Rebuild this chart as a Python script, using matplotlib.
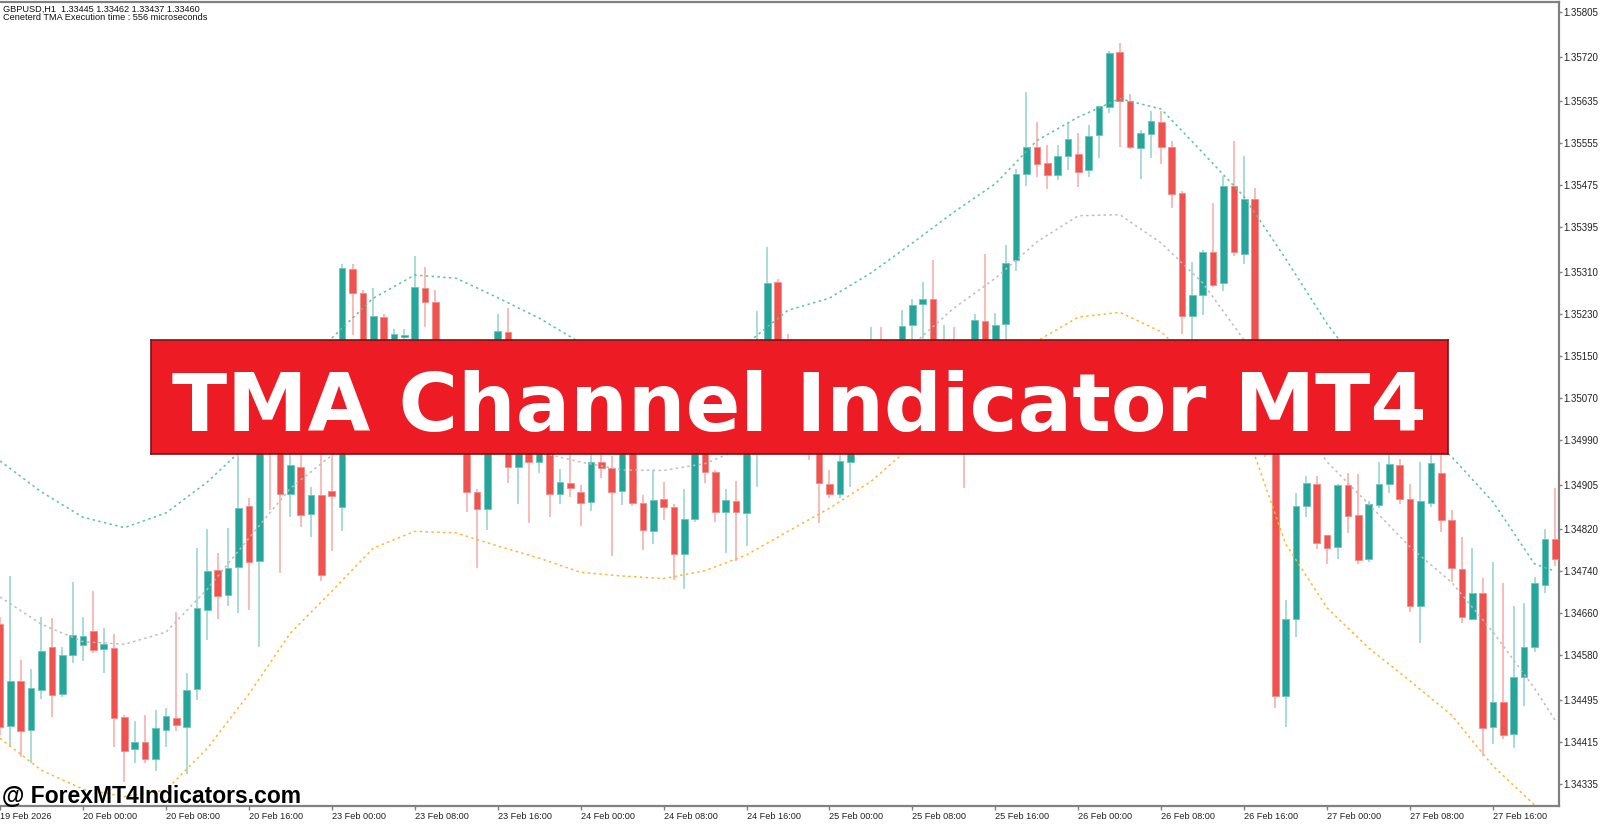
import numpy as np
import matplotlib
matplotlib.use("Agg")
import matplotlib.pyplot as plt

# GBPUSD H1 candles, 19 Feb 16:00 .. 27 Feb 22:00 (151 bars)
opens = [
    1.34661, 1.34445, 1.34531, 1.34437, 1.34514, 1.34596, 1.34506, 1.34580, 1.34599, 1.34627,
    1.34592, 1.34594, 1.34463, 1.34401, 1.34415, 1.34383, 1.34437, 1.34460, 1.34443, 1.34516,
    1.34666, 1.34742, 1.34695, 1.34748, 1.34864, 1.34759, 1.35028, 1.34975, 1.34887, 1.34938,
    1.34849, 1.34885, 1.34893, 1.34862, 1.35316, 1.35270, 1.35171, 1.35224, 1.35171, 1.35186,
    1.35180, 1.35279, 1.35253, 1.35104, 1.35047, 1.34990, 1.34891, 1.34858, 1.35066, 1.35196,
    1.34938, 1.35009, 1.34948, 1.34990, 1.34887, 1.34908, 1.34891, 1.34872, 1.34948, 1.34936,
    1.34893, 1.34990, 1.34870, 1.34817, 1.34877, 1.34863, 1.34773, 1.34840, 1.35009, 1.34929,
    1.34852, 1.34874, 1.34851, 1.35028, 1.35104, 1.35291, 1.35066, 1.35009, 1.35037, 1.34990,
    1.34906, 1.34887, 1.34948, 1.35009, 1.35066, 1.35171, 1.35123, 1.35161, 1.35208, 1.35249,
    1.35259, 1.35095, 1.35123, 1.35028, 1.34990, 1.35216, 1.35171, 1.35211, 1.35333, 1.35496,
    1.35548, 1.35518, 1.35495, 1.35530, 1.35535, 1.35504, 1.35570, 1.35625, 1.35728, 1.35636,
    1.35546, 1.35573, 1.35596, 1.35547, 1.35460, 1.35226, 1.35267, 1.35348, 1.35288, 1.35474,
    1.35344, 1.35448, 1.35066, 1.35009, 1.34502, 1.34650, 1.34865, 1.34907, 1.34809, 1.34787,
    1.34904, 1.34847, 1.34763, 1.34866, 1.34906, 1.34942, 1.34877, 1.34674, 1.34870, 1.34928,
    1.34837, 1.34745, 1.34650, 1.34699, 1.34443, 1.34491, 1.34430, 1.34538, 1.34595, 1.34714,
    1.34801,
]
highs = [
    1.34652, 1.34731, 1.34571, 1.34554, 1.34653, 1.34651, 1.34596, 1.34719, 1.34653, 1.34702,
    1.34632, 1.34621, 1.34466, 1.34455, 1.34466, 1.34475, 1.34479, 1.34663, 1.34546, 1.34784,
    1.34820, 1.34774, 1.34822, 1.34971, 1.34879, 1.35066, 1.35104, 1.35009, 1.34990, 1.34971,
    1.34900, 1.34971, 1.34990, 1.35325, 1.35325, 1.35276, 1.35280, 1.35230, 1.35201, 1.35201,
    1.35340, 1.35319, 1.35276, 1.35123, 1.35066, 1.35009, 1.34896, 1.35076, 1.35230, 1.35242,
    1.35028, 1.35018, 1.35009, 1.35009, 1.34935, 1.34971, 1.34904, 1.34980, 1.34971, 1.34959,
    1.35009, 1.35009, 1.34885, 1.34933, 1.34910, 1.34868, 1.34896, 1.35028, 1.35028, 1.34933,
    1.34896, 1.34912, 1.35066, 1.35236, 1.35358, 1.35297, 1.35192, 1.35076, 1.35066, 1.35009,
    1.34933, 1.34971, 1.35018, 1.35085, 1.35206, 1.35206, 1.35180, 1.35237, 1.35258, 1.35291,
    1.35333, 1.35209, 1.35206, 1.35066, 1.35230, 1.35344, 1.35232, 1.35361, 1.35506, 1.35653,
    1.35596, 1.35552, 1.35552, 1.35593, 1.35574, 1.35590, 1.35626, 1.35731, 1.35746, 1.35648,
    1.35580, 1.35617, 1.35617, 1.35559, 1.35464, 1.35328, 1.35352, 1.35442, 1.35493, 1.35559,
    1.35530, 1.35469, 1.35085, 1.35028, 1.34686, 1.34889, 1.34921, 1.34921, 1.34809, 1.34907,
    1.34928, 1.34925, 1.34874, 1.34948, 1.34964, 1.34953, 1.34906, 1.34948, 1.34964, 1.34964,
    1.34856, 1.34806, 1.34785, 1.34728, 1.34758, 1.34717, 1.34674, 1.34680, 1.34729, 1.34820,
    1.34898,
]
lows = [
    1.34428, 1.34405, 1.34386, 1.34375, 1.34496, 1.34463, 1.34500, 1.34565, 1.34569, 1.34585,
    1.34547, 1.34405, 1.34338, 1.34375, 1.34375, 1.34360, 1.34406, 1.34436, 1.34354, 1.34495,
    1.34609, 1.34650, 1.34674, 1.34660, 1.34666, 1.34596, 1.34856, 1.34736, 1.34843, 1.34824,
    1.34805, 1.34721, 1.34779, 1.34817, 1.35190, 1.35142, 1.35152, 1.35152, 1.35157, 1.35171,
    1.35161, 1.35205, 1.35085, 1.35009, 1.34971, 1.34853, 1.34747, 1.34818, 1.35047, 1.34908,
    1.34868, 1.34832, 1.34928, 1.34843, 1.34868, 1.34881, 1.34826, 1.34855, 1.34917, 1.34769,
    1.34866, 1.34864, 1.34780, 1.34792, 1.34837, 1.34723, 1.34706, 1.34834, 1.34908, 1.34834,
    1.34774, 1.34760, 1.34788, 1.34901, 1.35085, 1.35047, 1.34990, 1.34980, 1.34952, 1.34832,
    1.34879, 1.34879, 1.34901, 1.34990, 1.35047, 1.35085, 1.35104, 1.35142, 1.35182, 1.35182,
    1.35085, 1.35028, 1.34990, 1.34898, 1.34971, 1.35142, 1.35152, 1.35171, 1.35312, 1.35474,
    1.35491, 1.35468, 1.35485, 1.35504, 1.35471, 1.35490, 1.35526, 1.35613, 1.35547, 1.35544,
    1.35486, 1.35526, 1.35516, 1.35432, 1.35192, 1.35171, 1.35228, 1.35281, 1.35274, 1.35340,
    1.35326, 1.35047, 1.34957, 1.34479, 1.34443, 1.34615, 1.34843, 1.34782, 1.34753, 1.34764,
    1.34813, 1.34753, 1.34757, 1.34860, 1.34889, 1.34869, 1.34663, 1.34604, 1.34863, 1.34814,
    1.34720, 1.34641, 1.34647, 1.34388, 1.34412, 1.34420, 1.34403, 1.34483, 1.34587, 1.34698,
    1.34750,
]
closes = [
    1.34444, 1.34531, 1.34435, 1.34517, 1.34588, 1.34505, 1.34580, 1.34618, 1.34616, 1.34590,
    1.34601, 1.34460, 1.34397, 1.34414, 1.34382, 1.34442, 1.34464, 1.34447, 1.34514, 1.34670,
    1.34741, 1.34693, 1.34746, 1.34860, 1.34758, 1.35028, 1.34975, 1.34887, 1.34942, 1.34847,
    1.34885, 1.34733, 1.34883, 1.35317, 1.35270, 1.35171, 1.35226, 1.35171, 1.35192, 1.35190,
    1.35281, 1.35253, 1.35104, 1.35028, 1.34990, 1.34891, 1.34858, 1.35066, 1.35197, 1.34939,
    1.35009, 1.34948, 1.34990, 1.34887, 1.34910, 1.34898, 1.34870, 1.34948, 1.34937, 1.34891,
    1.34990, 1.34870, 1.34818, 1.34876, 1.34863, 1.34773, 1.34839, 1.35009, 1.34929, 1.34853,
    1.34876, 1.34852, 1.35028, 1.35104, 1.35289, 1.35066, 1.35028, 1.35047, 1.34990, 1.34908,
    1.34887, 1.34950, 1.35009, 1.35066, 1.35142, 1.35123, 1.35161, 1.35207, 1.35247, 1.35258,
    1.35104, 1.35123, 1.35028, 1.34980, 1.35218, 1.35171, 1.35209, 1.35327, 1.35496, 1.35548,
    1.35516, 1.35495, 1.35530, 1.35563, 1.35501, 1.35569, 1.35626, 1.35727, 1.35636, 1.35547,
    1.35574, 1.35598, 1.35548, 1.35458, 1.35226, 1.35266, 1.35347, 1.35286, 1.35474, 1.35347,
    1.35448, 1.35066, 1.35009, 1.34502, 1.34649, 1.34864, 1.34909, 1.34793, 1.34785, 1.34905,
    1.34846, 1.34761, 1.34868, 1.34906, 1.34944, 1.34877, 1.34674, 1.34874, 1.34947, 1.34837,
    1.34747, 1.34652, 1.34699, 1.34441, 1.34491, 1.34428, 1.34538, 1.34595, 1.34717, 1.34801,
    1.34764,
]
opens[0] = 1.34640

# centered TMA channel read every 4 bars
tma_bars = list(range(0, 149, 4)) + [150]
tma_upper = [
    1.34950, 1.34891, 1.34843, 1.34823, 1.34851, 1.34910, 1.34984, 1.35079, 1.35184, 1.35260,
    1.35304, 1.35298, 1.35261, 1.35222, 1.35175, 1.35142, 1.35131, 1.35140, 1.35173, 1.35237,
    1.35260, 1.35308, 1.35365, 1.35424, 1.35478, 1.35560, 1.35605, 1.35640, 1.35620, 1.35537,
    1.35453, 1.35335, 1.35211, 1.35106, 1.35028, 1.34958, 1.34872, 1.34754, 1.34740,
]
tma_middle = [
    1.34691, 1.34639, 1.34606, 1.34601, 1.34624, 1.34706, 1.34803, 1.34898, 1.34961, 1.35003,
    1.35017, 1.35007, 1.34990, 1.34967, 1.34948, 1.34933, 1.34932, 1.34945, 1.34978, 1.35026,
    1.35072, 1.35119, 1.35171, 1.35241, 1.35298, 1.35367, 1.35417, 1.35419, 1.35365, 1.35289,
    1.35180, 1.35062, 1.34948, 1.34868, 1.34786, 1.34719, 1.34624, 1.34517, 1.34456,
]
tma_lower = [
    1.34422, 1.34361, 1.34325, 1.34311, 1.34323, 1.34403, 1.34506, 1.34622, 1.34702, 1.34784,
    1.34816, 1.34813, 1.34788, 1.34765, 1.34738, 1.34731, 1.34726, 1.34741, 1.34771, 1.34816,
    1.34860, 1.34911, 1.34980, 1.35051, 1.35119, 1.35178, 1.35224, 1.35233, 1.35196, 1.35117,
    1.35018, 1.34792, 1.34670, 1.34594, 1.34531, 1.34466, 1.34369, 1.34295, 1.34275,
]

price_ticks = [1.35805, 1.35720, 1.35635, 1.35555, 1.35475, 1.35395, 1.35310, 1.35230, 1.35150,
               1.35070, 1.34990, 1.34905, 1.34820, 1.34740, 1.34660, 1.34580, 1.34495, 1.34415,
               1.34335]
time_bars = [0, 8, 16, 24, 32, 40, 48, 56, 64, 72, 80, 88, 96, 104, 112, 120, 128, 136, 144]
time_labels = ["19 Feb 2026", "20 Feb 00:00", "20 Feb 08:00", "20 Feb 16:00", "23 Feb 00:00",
               "23 Feb 08:00", "23 Feb 16:00", "24 Feb 00:00", "24 Feb 08:00", "24 Feb 16:00",
               "25 Feb 00:00", "25 Feb 08:00", "25 Feb 16:00", "26 Feb 00:00", "26 Feb 08:00",
               "26 Feb 16:00", "27 Feb 00:00", "27 Feb 08:00", "27 Feb 16:00"]

bull = "#26a69a"
bear = "#ef5350"
axis_col = "#808080"

plt.rcParams["font.family"] = ["Liberation Sans", "DejaVu Sans"]

fig = plt.figure(figsize=(16, 8.24), dpi=100)
W, H = 1600, 824
ax = fig.add_axes([0, 1 - 806 / H, 1559 / W, 804 / H])

o = np.array(opens)
h = np.array(highs)
l = np.array(lows)
c = np.array(closes)
x = np.arange(len(o))
up = c >= o

# wicks (pale) then bodies
ax.vlines(x[up], l[up], h[up], colors=bull, alpha=0.5, linewidth=1.1, zorder=2)
ax.vlines(x[~up], l[~up], h[~up], colors=bear, alpha=0.5, linewidth=1.1, zorder=2)
body = np.maximum(np.abs(c - o), 0.00003)
ax.bar(x[up], body[up], bottom=np.minimum(o, c)[up], width=0.64, color=bull,
       edgecolor="#6cc4bb", linewidth=0.6, zorder=3)
ax.bar(x[~up], body[~up], bottom=np.minimum(o, c)[~up], width=0.64, color=bear,
       edgecolor="#f38a88", linewidth=0.6, zorder=3)

dots = (0, (1.6, 2.2))
ax.plot(tma_bars, tma_upper, color="#5cc596", linestyle=dots, linewidth=1.1, zorder=4)
ax.plot(tma_bars, tma_middle, color="#bdbdbd", linestyle=dots, linewidth=1.1, zorder=4)
ax.plot(tma_bars, tma_lower, color="#ffb531", linestyle=dots, linewidth=1.1, zorder=4)

ax.set_xlim(0.03, 150.36)
ax.set_ylim(1.34293, 1.35824)

ax.set_yticks(price_ticks)
ax.set_yticklabels([f"{p:.5f}" for p in price_ticks])
ax.yaxis.tick_right()
ax.tick_params(axis="y", direction="out", length=2, width=1, color=axis_col,
               labelsize=7, pad=1, labelcolor="#222222")
ax.set_xticks(time_bars)
ax.set_xticklabels(time_labels, ha="left")
ax.tick_params(axis="x", direction="out", length=3, width=1, color=axis_col,
               labelsize=6.6, pad=1.5, labelcolor="#222222")

for side in ["top", "right", "bottom"]:
    ax.spines[side].set_color(axis_col)
    ax.spines[side].set_linewidth(1.6)
ax.spines["left"].set_visible(False)

fig.text(3 / W, 1 - 9 / H, "GBPUSD,H1  1.33445 1.33462 1.33437 1.33460",
         fontsize=6.6, va="center", ha="left", color="#111111")
fig.text(3 / W, 1 - 18 / H, "Ceneterd TMA Execution time : 556 microseconds",
         fontsize=6.6, va="center", ha="left", color="#111111")

# title banner
bx = fig.add_axes([151 / W, 1 - 454 / H, 1297 / W, 114 / H], zorder=10)
bx.set_facecolor("#ed1c24")
bx.set_xticks([])
bx.set_yticks([])
for s in bx.spines.values():
    s.set_color("#7a1416")
    s.set_linewidth(1.2)
bx.text(0.5, 0.205, "TMA Channel Indicator MT4", transform=bx.transAxes,
        ha="center", va="baseline", color="white", fontsize=58.3,
        fontweight="bold", family="DejaVu Sans")

fig.text(2 / W, 1 - 803 / H, "@ ForexMT4Indicators.com", fontsize=16.5,
         fontweight="bold", color="black", ha="left", va="baseline", zorder=11)

fig.savefig("out.png", dpi=100)
